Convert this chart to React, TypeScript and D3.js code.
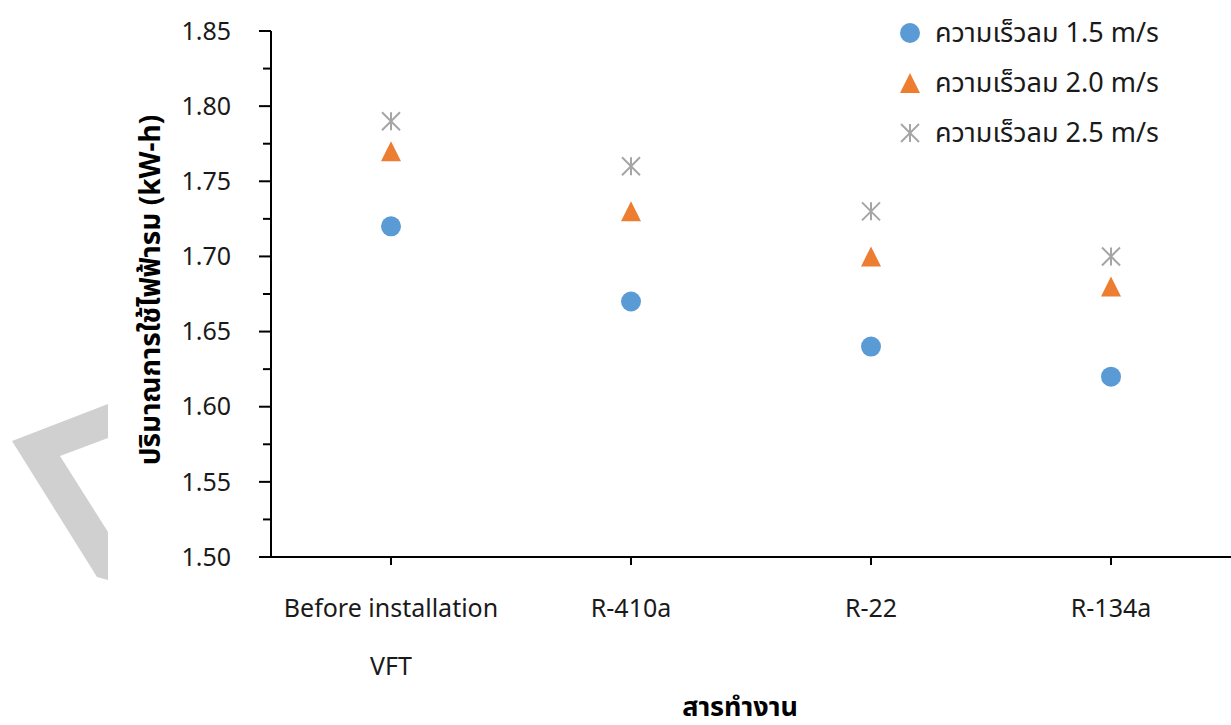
import React from "react";
import * as d3 from "d3";

const categories = ["Before installation\nVFT", "R-410a", "R-22", "R-134a"];
const series15 = [1.72, 1.67, 1.64, 1.62];
const series20 = [1.77, 1.73, 1.70, 1.68];
const series25 = [1.79, 1.76, 1.73, 1.70];
const seriesNames = ["ความเร็วลม 1.5 m/s", "ความเร็วลม 2.0 m/s", "ความเร็วลม 2.5 m/s"];
const yTicks = [1.5, 1.55, 1.6, 1.65, 1.7, 1.75, 1.8, 1.85];
const yTitle = "ปริมาณการใช้ไฟฟ้ารม (kW-h)";
const xTitle = "สารทำงาน";

const W = 1231, H = 725;
const left = 271, right = 1231, top = 31, bottom = 557;
const FONT = "'Noto Sans', 'Noto Sans Thai', 'DejaVu Sans', sans-serif";
const COLORS = ["#5B9BD5", "#ED7D31", "#A5A5A5"];

function Marker({ kind, x, y }: { kind: number; x: number; y: number }) {
  if (kind === 0) return <circle cx={x} cy={y} r={10} fill={COLORS[0]} />;
  if (kind === 1) {
    const p = d3.path();
    p.moveTo(x, y - 10);
    p.lineTo(x + 10, y + 10);
    p.lineTo(x - 10, y + 10);
    p.closePath();
    return <path d={p.toString()} fill={COLORS[1]} />;
  }
  const s = 9;
  return (
    <g stroke={COLORS[2]} strokeWidth={2}>
      <line x1={x} y1={y - s} x2={x} y2={y + s} />
      <line x1={x - s} y1={y - s} x2={x + s} y2={y + s} />
      <line x1={x - s} y1={y + s} x2={x + s} y2={y - s} />
    </g>
  );
}

export default function App() {
  const x = d3.scaleBand().domain(categories).range([left, right]);
  const y = d3.scaleLinear().domain([1.5, 1.85]).range([bottom, top]);
  const minor = d3.range(7).map((i) => 1.525 + i * 0.05);
  const all = [series15, series20, series25];
  const wm = [[108, 404], [12, 441], [97, 577], [108, 580], [108, 532], [60, 456], [108, 438]];
  return (
    <svg width={W} height={H} style={{ position: "absolute", left: 0, top: 0, background: "#fff" }} fontFamily={FONT}>
      <rect width={W} height={H} fill="#fff" />
      <path d={(d3.line()(wm as [number, number][]) || "") + "Z"} fill="#D0D0D0" />
      {/* y axis */}
      <line x1={left} y1={top} x2={left} y2={bottom} stroke="#000" strokeWidth={2} />
      {yTicks.map((t) => (
        <g key={t}>
          <line x1={left - 12} x2={left} y1={y(t)} y2={y(t)} stroke="#000" strokeWidth={2} />
          <text x={left - 40} y={y(t)} dy="0.35em" textAnchor="end" fontSize={25} fill="#1a1a1a">
            {t.toFixed(2)}
          </text>
        </g>
      ))}
      {minor.map((t) => (
        <line key={t} x1={left - 8} x2={left} y1={y(t)} y2={y(t)} stroke="#000" strokeWidth={2} />
      ))}
      {/* x axis */}
      <line x1={left - 12} x2={right} y1={bottom} y2={bottom} stroke="#000" strokeWidth={2} />
      {categories.map((c) => {
        const cx = (x(c) as number) + x.bandwidth() / 2;
        const lines = c.split("\n");
        return (
          <g key={c}>
            <line x1={cx} x2={cx} y1={bottom} y2={bottom + 8} stroke="#000" strokeWidth={2} />
            {lines.map((l, i) => (
              <text key={i} x={cx} y={608 + i * 58} dy="0.35em" textAnchor="middle" fontSize={25} fill="#1a1a1a">
                {l}
              </text>
            ))}
          </g>
        );
      })}
      {/* points */}
      {all.map((s, k) =>
        s.map((v, i) => (
          <Marker key={k + "-" + i} kind={k} x={(x(categories[i]) as number) + x.bandwidth() / 2} y={y(v)} />
        ))
      )}
      {/* legend */}
      {seriesNames.map((n, k) => (
        <g key={n}>
          <Marker kind={k} x={910} y={33 + k * 50} />
          <text x={935} y={33 + k * 50} dy="0.35em" fontSize={27} fill="#1a1a1a">
            {n}
          </text>
        </g>
      ))}
      {/* titles */}
      <text x={740} y={707} dy="0.35em" textAnchor="middle" fontSize={27} fontWeight="bold" fill="#000">
        {xTitle}
      </text>
      <text transform={`translate(150,290) rotate(-90)`} dy="0.35em" textAnchor="middle" fontSize={28} fontWeight="bold" fill="#000">
        {yTitle}
      </text>
    </svg>
  );
}
